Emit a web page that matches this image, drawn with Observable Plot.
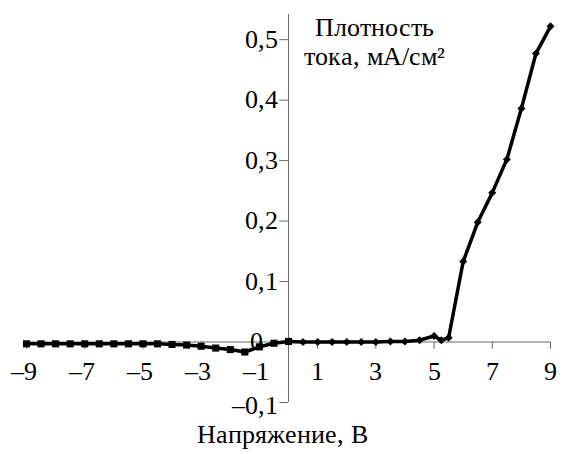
<!DOCTYPE html>
<html>
<head>
<meta charset="utf-8">
<script src="https://cdn.jsdelivr.net/npm/d3@7"></script>
<script src="https://cdn.jsdelivr.net/npm/@observablehq/plot@0.6"></script>
<style>
  @font-face {
    font-family: "RefSerif";
    src: local("Liberation Serif"), local("LiberationSerif"), local("LiberationSerif-Regular"),
         local("Times New Roman"), local("DejaVu Serif"), local("DejaVuSerif");
  }
  html, body { margin: 0; padding: 0; background: #fff; }
  #chart svg { display: block; }
</style>
</head>
<body>
<div id="chart"></div>
<script>
// Reverse-bias branch (square markers)
const negVoltage = [-9, -8.5, -8, -7.5, -7, -6.5, -6, -5.5, -5, -4.5, -4, -3.5, -3, -2.5, -2, -1.5, -1, -0.5, 0];
const negCurrent = [-0.003, -0.003, -0.003, -0.003, -0.003, -0.003, -0.003, -0.003, -0.003, -0.003, -0.004, -0.005, -0.007, -0.010, -0.0125, -0.0165, -0.008, -0.002, 0.001];
// Forward-bias branch (diamond markers)
const posVoltage = [0, 0.5, 1, 1.5, 2, 2.5, 3, 3.5, 4, 4.5, 5, 5.25, 5.5, 6, 6.5, 7, 7.5, 8, 8.5, 9];
const posCurrent = [0.001, 0.000, 0.000, 0.000, 0.000, 0.000, 0.000, 0.001, 0.001, 0.003, 0.010, 0.003, 0.007, 0.133, 0.198, 0.247, 0.302, 0.386, 0.477, 0.522];

const xTicks = [-9, -7, -5, -3, -1, 1, 3, 5, 7, 9];
const yTicks = [-0.1, 0, 0.1, 0.2, 0.3, 0.4, 0.5];
const yTitle = "Плотность\nтока, мА/см²";
const xTitle = "Напряжение, В";

const neg = negVoltage.map((v, i) => ({v, j: negCurrent[i]}));
const pos = posVoltage.map((v, i) => ({v, j: posCurrent[i]}));

const fmtX = d => (d < 0 ? "\u2013" + Math.abs(d) : String(d));
const fmtY = d => (d < 0 ? "\u2013" : "") + String(Math.abs(d)).replace(".", ",");

const axisColor = "#6b6b6b";
const FF = "RefSerif, 'Liberation Serif', 'DejaVu Serif', serif";
const T = {fill: "#000", fontSize: 26, fontFamily: FF};

const chart = Plot.plot({
  width: 563,
  height: 454,
  marginLeft: 26,
  marginRight: 13,
  marginTop: 14,
  marginBottom: 52,
  style: {background: "#fff", color: "#000"},
  x: {domain: [-9, 9], axis: null},
  y: {domain: [-0.1, 0.5416], axis: null},
  marks: [
    // axes
    Plot.ruleY([0], {stroke: axisColor, strokeWidth: 1}),
    Plot.ruleX([0], {stroke: axisColor, strokeWidth: 1}),
    Plot.ruleX(xTicks, {x: d => d, y1: 0, y2: -0.012, stroke: axisColor, strokeWidth: 1}),
    Plot.ruleY(yTicks, {y: d => d, x1: -0.3, x2: 0, stroke: axisColor, strokeWidth: 1}),
    // data
    Plot.line(neg, {x: "v", y: "j", stroke: "#000", strokeWidth: 3.5}),
    Plot.line(pos, {x: "v", y: "j", stroke: "#000", strokeWidth: 3.5}),
    Plot.dot(neg, {x: "v", y: "j", symbol: "square", r: 4, fill: "#000", stroke: "none"}),
    Plot.dot(pos, {x: "v", y: "j", symbol: "diamond2", r: 3.6, fill: "#000", stroke: "none"}),
    // tick labels
    Plot.text(xTicks.filter(d => d < 0), {x: d => d, y: 0, dy: 30, dx: -3, text: fmtX, ...T}),
    Plot.text(xTicks.filter(d => d > 0), {x: d => d, y: 0, dy: 30, text: fmtX, ...T}),
    Plot.text(yTicks.filter(d => d > 0), {x: 0, y: d => d, dx: -11, textAnchor: "end", text: fmtY, ...T}),
    Plot.text([0], {x: 0, y: d => d, dx: -26, textAnchor: "end", text: fmtY, ...T}),
    Plot.text([-0.1], {x: 0, y: d => d, dx: -11, dy: 3, textAnchor: "end", text: fmtY, ...T}),
    // titles
    Plot.text([yTitle], {frameAnchor: "top-left", dx: 348, dy: 2, lineAnchor: "top", textAnchor: "middle", lineHeight: 1.08, text: d => d, ...T}),
    Plot.text([xTitle], {frameAnchor: "bottom", dx: -6, dy: 40, text: d => d, ...T})
  ]
});
document.getElementById("chart").appendChild(chart);
</script>
</body>
</html>
